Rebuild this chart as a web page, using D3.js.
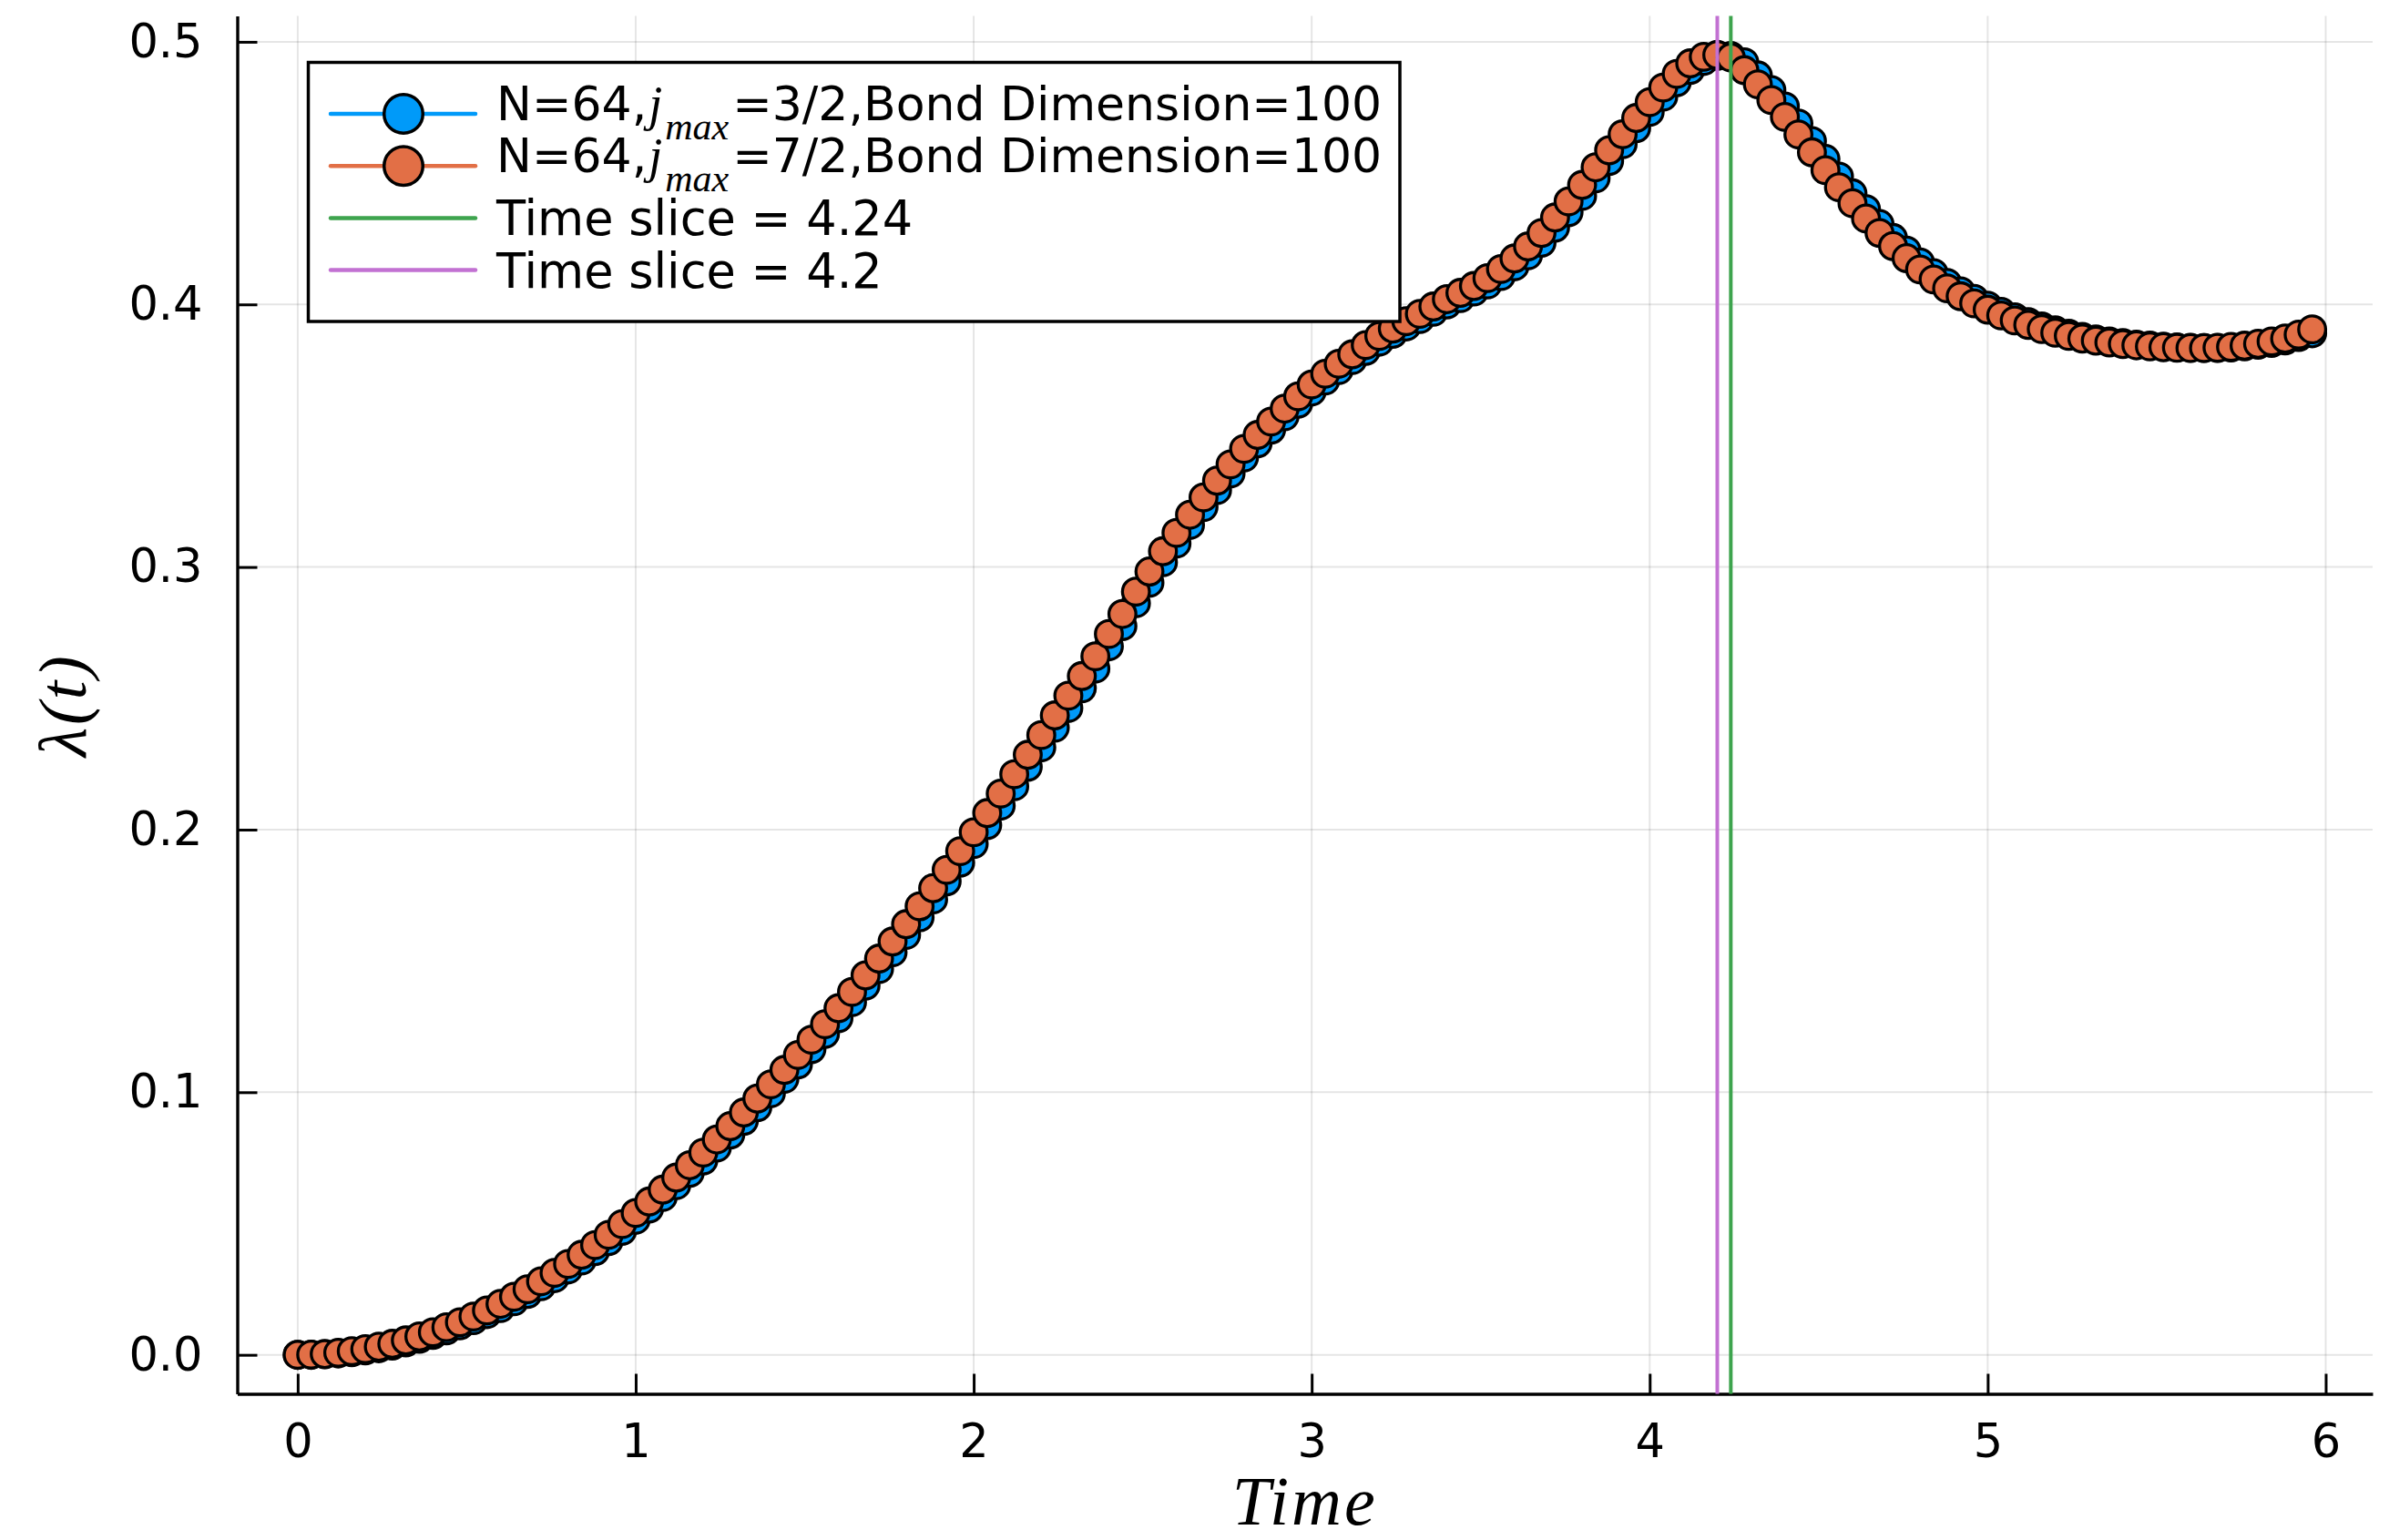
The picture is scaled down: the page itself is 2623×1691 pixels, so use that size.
<!DOCTYPE html>
<html>
<head>
<meta charset="utf-8">
<script src="https://cdn.jsdelivr.net/npm/d3@7"></script>
<style>
  html, body { margin: 0; padding: 0; background: #fff; }
  svg { display: block; }
</style>
</head>
<body>
<div id="chart"></div>
<script>
// time grid (dt = 0.04)
const times = [
  0.00, 0.04, 0.08, 0.12, 0.16, 0.20, 0.24, 0.28, 0.32, 0.36,
  0.40, 0.44, 0.48, 0.52, 0.56, 0.60, 0.64, 0.68, 0.72, 0.76,
  0.80, 0.84, 0.88, 0.92, 0.96, 1.00, 1.04, 1.08, 1.12, 1.16,
  1.20, 1.24, 1.28, 1.32, 1.36, 1.40, 1.44, 1.48, 1.52, 1.56,
  1.60, 1.64, 1.68, 1.72, 1.76, 1.80, 1.84, 1.88, 1.92, 1.96,
  2.00, 2.04, 2.08, 2.12, 2.16, 2.20, 2.24, 2.28, 2.32, 2.36,
  2.40, 2.44, 2.48, 2.52, 2.56, 2.60, 2.64, 2.68, 2.72, 2.76,
  2.80, 2.84, 2.88, 2.92, 2.96, 3.00, 3.04, 3.08, 3.12, 3.16,
  3.20, 3.24, 3.28, 3.32, 3.36, 3.40, 3.44, 3.48, 3.52, 3.56,
  3.60, 3.64, 3.68, 3.72, 3.76, 3.80, 3.84, 3.88, 3.92, 3.96,
  4.00, 4.04, 4.08, 4.12, 4.16, 4.20, 4.24, 4.28, 4.32, 4.36,
  4.40, 4.44, 4.48, 4.52, 4.56, 4.60, 4.64, 4.68, 4.72, 4.76,
  4.80, 4.84, 4.88, 4.92, 4.96, 5.00, 5.04, 5.08, 5.12, 5.16,
  5.20, 5.24, 5.28, 5.32, 5.36, 5.40, 5.44, 5.48, 5.52, 5.56,
  5.60, 5.64, 5.68, 5.72, 5.76, 5.80, 5.84, 5.88, 5.92, 5.96
];

// lambda(t), j_max = 3/2
const lambdaJ32 = [
  0.0000, 0.0000, 0.0002, 0.0005, 0.0010, 0.0017, 0.0025, 0.0035, 0.0047, 0.0061,
  0.0076, 0.0093, 0.0112, 0.0132, 0.0155, 0.0178, 0.0204, 0.0232, 0.0261, 0.0292,
  0.0325, 0.0359, 0.0395, 0.0433, 0.0472, 0.0514, 0.0557, 0.0601, 0.0646, 0.0693,
  0.0740, 0.0789, 0.0839, 0.0891, 0.0943, 0.0996, 0.1051, 0.1106, 0.1164, 0.1222,
  0.1282, 0.1343, 0.1406, 0.1469, 0.1533, 0.1599, 0.1666, 0.1734, 0.1803, 0.1874,
  0.1945, 0.2017, 0.2091, 0.2165, 0.2239, 0.2313, 0.2388, 0.2463, 0.2538, 0.2613,
  0.2698, 0.2775, 0.2862, 0.2940, 0.3018, 0.3089, 0.3160, 0.3228, 0.3293, 0.3356,
  0.3417, 0.3471, 0.3523, 0.3574, 0.3622, 0.3668, 0.3710, 0.3750, 0.3788, 0.3823,
  0.3858, 0.3888, 0.3916, 0.3944, 0.3972, 0.4000, 0.4024, 0.4049, 0.4076, 0.4108,
  0.4145, 0.4187, 0.4235, 0.4292, 0.4351, 0.4413, 0.4480, 0.4546, 0.4610, 0.4671,
  0.4733, 0.4791, 0.4846, 0.4893, 0.4927, 0.4946, 0.4946, 0.4922, 0.4872, 0.4816,
  0.4754, 0.4689, 0.4622, 0.4554, 0.4487, 0.4423, 0.4363, 0.4306, 0.4253, 0.4205,
  0.4160, 0.4119, 0.4082, 0.4050, 0.4021, 0.3995, 0.3972, 0.3951, 0.3933, 0.3916,
  0.3901, 0.3888, 0.3876, 0.3867, 0.3859, 0.3853, 0.3847, 0.3843, 0.3839, 0.3836,
  0.3835, 0.3834, 0.3834, 0.3836, 0.3840, 0.3846, 0.3853, 0.3863, 0.3876, 0.3890
];

// lambda(t), j_max = 7/2
const lambdaJ72 = [
  0.0000, 0.0001, 0.0003, 0.0008, 0.0014, 0.0022, 0.0031, 0.0042, 0.0055, 0.0070,
  0.0086, 0.0105, 0.0124, 0.0146, 0.0169, 0.0194, 0.0221, 0.0250, 0.0280, 0.0312,
  0.0346, 0.0381, 0.0418, 0.0457, 0.0498, 0.0540, 0.0584, 0.0629, 0.0675, 0.0722,
  0.0770, 0.0820, 0.0871, 0.0923, 0.0976, 0.1030, 0.1085, 0.1142, 0.1200, 0.1259,
  0.1320, 0.1382, 0.1445, 0.1509, 0.1574, 0.1640, 0.1708, 0.1777, 0.1847, 0.1918,
  0.1990, 0.2063, 0.2137, 0.2211, 0.2285, 0.2360, 0.2435, 0.2510, 0.2585, 0.2660,
  0.2745, 0.2821, 0.2906, 0.2983, 0.3060, 0.3130, 0.3199, 0.3265, 0.3329, 0.3391,
  0.3450, 0.3503, 0.3554, 0.3603, 0.3650, 0.3695, 0.3736, 0.3774, 0.3810, 0.3845,
  0.3880, 0.3908, 0.3936, 0.3964, 0.3992, 0.4020, 0.4044, 0.4070, 0.4100, 0.4135,
  0.4175, 0.4221, 0.4272, 0.4331, 0.4392, 0.4455, 0.4522, 0.4587, 0.4648, 0.4710,
  0.4770, 0.4826, 0.4878, 0.4918, 0.4943, 0.4950, 0.4940, 0.4892, 0.4838, 0.4778,
  0.4714, 0.4647, 0.4579, 0.4511, 0.4446, 0.4385, 0.4327, 0.4272, 0.4222, 0.4176,
  0.4133, 0.4095, 0.4061, 0.4031, 0.4004, 0.3980, 0.3958, 0.3939, 0.3922, 0.3906,
  0.3892, 0.3880, 0.3870, 0.3862, 0.3855, 0.3849, 0.3844, 0.3840, 0.3837, 0.3835,
  0.3834, 0.3834, 0.3835, 0.3838, 0.3843, 0.3850, 0.3859, 0.3870, 0.3885, 0.3905
];

const timeSlices = [4.24, 4.2];
const xTicks = [0, 1, 2, 3, 4, 5, 6];
const xTickLabels = ['0', '1', '2', '3', '4', '5', '6'];
const yTicks = [0, 0.1, 0.2, 0.3, 0.4, 0.5];
const yTickLabels = ['0.0', '0.1', '0.2', '0.3', '0.4', '0.5'];

const W = 2623, H = 1691;
const sans = 'DejaVu Sans, sans-serif';
const serif = 'Liberation Serif, Times New Roman, serif';

const colors = {
  blue: '#009af9',
  orange: '#e26f46',
  green: '#3ea44e',
  purple: '#c271d2',
};

const svg = d3.select('#chart')
  .append('svg')
  .attr('width', W)
  .attr('height', H)
  .style('background', '#fff');

// padded limits like Plots.jl (3% widen)
const x = d3.scaleLinear().domain([-0.1788, 6.1388]).range([260.5, 2605]);
const y = d3.scaleLinear().domain([-0.01485, 0.50985]).range([1530.5, 17.5]);

const [x0, x1] = x.range();
const [y0, y1] = y.range();

// grid
const grid = svg.append('g').attr('stroke', 'rgba(0,0,0,0.1)').attr('stroke-width', 2);
grid.selectAll('.gx').data(xTicks).enter().append('line')
  .attr('x1', d => x(d)).attr('x2', d => x(d))
  .attr('y1', y1).attr('y2', y0);
grid.selectAll('.gy').data(yTicks).enter().append('line')
  .attr('x1', x0).attr('x2', x1)
  .attr('y1', d => y(d)).attr('y2', d => y(d));

// axes
const xAxis = svg.append('g')
  .attr('transform', `translate(0,${y0})`)
  .call(d3.axisBottom(x).tickValues(xTicks).tickFormat((d, i) => xTickLabels[i])
    .tickSizeInner(-22).tickSizeOuter(0).tickPadding(33));
const yAxis = svg.append('g')
  .attr('transform', `translate(${x0},0)`)
  .call(d3.axisLeft(y).tickValues(yTicks).tickFormat((d, i) => yTickLabels[i])
    .tickSizeInner(-22).tickSizeOuter(0).tickPadding(38));

[xAxis, yAxis].forEach(a => {
  a.select('.domain').attr('stroke', '#000').attr('stroke-width', 3.4);
  a.selectAll('.tick line').attr('stroke', '#000').attr('stroke-width', 3);
  a.selectAll('.tick text').attr('fill', '#000')
    .style('font-family', sans).style('font-size', '51px');
});

// axis labels
svg.append('text')
  .attr('x', (x0 + x1) / 2)
  .attr('y', 1674)
  .attr('text-anchor', 'middle')
  .style('font-family', serif)
  .style('font-style', 'italic')
  .style('font-size', '76px')
  .style('letter-spacing', '3px')
  .text('Time');

svg.append('text')
  .attr('transform', `translate(94,${(y0 + y1) / 2}) rotate(-90)`)
  .attr('text-anchor', 'middle')
  .style('font-family', serif)
  .style('font-style', 'italic')
  .style('font-size', '74px')
  .style('letter-spacing', '3px')
  .text('λ(t)');

// series
const line = d3.line().x(d => x(d[0])).y(d => y(d[1]));
const series = [
  { values: lambdaJ32, color: colors.blue },
  { values: lambdaJ72, color: colors.orange },
];

series.forEach((s, k) => {
  const pts = times.map((t, i) => [t, s.values[i]]);
  svg.append('path')
    .datum(pts)
    .attr('fill', 'none')
    .attr('stroke', s.color)
    .attr('stroke-width', 4)
    .attr('d', line);
  svg.selectAll(`.dot-${k}`)
    .data(pts)
    .enter()
    .append('circle')
    .attr('class', `dot-${k}`)
    .attr('cx', d => x(d[0]))
    .attr('cy', d => y(d[1]))
    .attr('r', 14.8)
    .attr('fill', s.color)
    .attr('stroke', '#000')
    .attr('stroke-width', 3.3);
});

// time slice lines
const sliceColors = [colors.green, colors.purple];
timeSlices.forEach((t, i) => {
  svg.append('line')
    .attr('x1', x(t)).attr('x2', x(t))
    .attr('y1', y1).attr('y2', y0)
    .attr('stroke', sliceColors[i])
    .attr('stroke-width', 4);
});

// legend
const legend = svg.append('g');
legend.append('rect')
  .attr('x', 338.5).attr('y', 68.5)
  .attr('width', 1198.5).attr('height', 284.5)
  .attr('fill', '#fff')
  .attr('stroke', '#000')
  .attr('stroke-width', 3.5);

const rowY = [125, 182.2, 239.4, 296.6];
const legendItems = [
  { color: colors.blue, marker: true, jmax: '=3/2,Bond Dimension=100' },
  { color: colors.orange, marker: true, jmax: '=7/2,Bond Dimension=100' },
  { color: colors.green, marker: false, label: 'Time slice = 4.24' },
  { color: colors.purple, marker: false, label: 'Time slice = 4.2' },
];

legendItems.forEach((it, i) => {
  const cy = rowY[i];
  legend.append('line')
    .attr('x1', 363).attr('x2', 522)
    .attr('y1', cy).attr('y2', cy)
    .attr('stroke', it.color)
    .attr('stroke-width', 4.5)
    .attr('stroke-linecap', 'round');
  if (it.marker) {
    legend.append('circle')
      .attr('cx', 443).attr('cy', cy).attr('r', 21.3)
      .attr('fill', it.color)
      .attr('stroke', '#000')
      .attr('stroke-width', 3.5);
    const txt = legend.append('text')
      .attr('x', 545).attr('y', cy + 6.7)
      .style('font-family', sans).style('font-size', '52px');
    txt.append('tspan').text('N=64,');
    txt.append('tspan').attr('dx', 2)
      .style('font-family', serif).style('font-style', 'italic').style('font-size', '54px')
      .text('j');
    txt.append('tspan').attr('dx', 3).attr('dy', 21)
      .style('font-family', serif).style('font-style', 'italic').style('font-size', '42px')
      .text('max');
    txt.append('tspan').attr('dx', 4).attr('dy', -21).text(it.jmax);
  } else {
    legend.append('text')
      .attr('x', 545).attr('y', cy + 19)
      .style('font-family', sans).style('font-size', '52.5px')
      .text(it.label);
  }
});
</script>
</body>
</html>
